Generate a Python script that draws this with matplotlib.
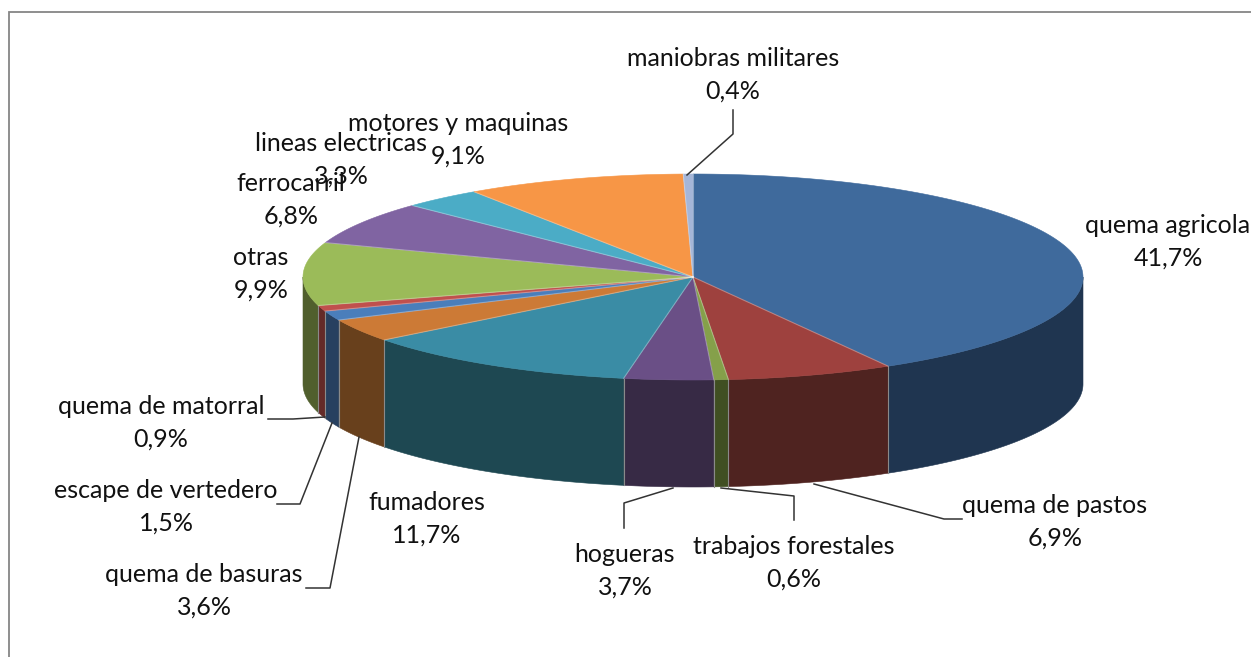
import matplotlib
matplotlib.use("Agg")
import matplotlib.pyplot as plt
from matplotlib.patches import Polygon
import numpy as np

labels = ["quema agricola", "quema de pastos", "trabajos forestales", "hogueras", "fumadores",
          "quema de basuras", "escape de vertedero", "quema de matorral", "otras", "ferrocarril",
          "lineas electricas", "motores y maquinas", "maniobras militares"]
values = [41.7, 6.9, 0.6, 3.7, 11.7, 3.6, 1.5, 0.9, 9.9, 6.8, 3.3, 9.1, 0.4]
top_colors = ["#3F6A9C", "#9E413E", "#85A04A", "#6A4F86", "#3A8CA5", "#CC7A36", "#4A7EBB",
              "#C0504D", "#9BBB59", "#8064A2", "#4BACC6", "#F79646", "#A5B6D8"]
side_colors = ["#1F3550", "#4F2320", "#404F22", "#372A45", "#1E4852", "#68401C", "#274060",
               "#642A28", "#505F2D", "#403251", "#256070", "#7C4B23", "#525B6C"]

# label centres in pixels
label_x = [1168, 1055, 794, 625, 427, 204, 166, 161, 261, 291, 341, 458, 733]
label_y = [242, 522, 563, 571, 519, 591, 507, 423, 274, 200, 160, 140, 75]

# leader lines, in pixels
leaders = [
    [(814, 484), (944, 519), (962, 519)],
    [(721, 488), (794, 496), (794, 520)],
    [(673, 488), (624, 503), (624, 528)],
    [(359, 437), (330, 588), (306, 588)],
    [(332, 423), (300, 504), (277, 504)],
    [(325, 417), (293, 419), (268, 419)],
    [(687, 175), (733, 134), (733, 110)],
]

cx, cy = 693, 277
rx, ry = 390, 103
depth = 107

plt.rcParams['font.family'] = ['Lato', 'DejaVu Sans']

fig = plt.figure(figsize=(12.51, 6.57), dpi=100)
ax = fig.add_axes([0, 0, 1, 1])
ax.set_xlim(0, 1251)
ax.set_ylim(657, 0)
ax.axis("off")

# chart frame runs off the right and bottom of the picture
ax.plot([9, 9, 1251], [657, 12, 12], color="#868686", lw=1.3, solid_joinstyle="miter")


def rim(a0, a1):
    t = np.radians(np.linspace(a0, a1, 200))
    return cx + rx*np.sin(t), cy - ry*np.cos(t)


edges = np.concatenate([[0], np.cumsum(values)])
edges = edges/edges[-1]*360

# side walls, only the part facing the viewer
for i in range(len(values)):
    a0 = max(edges[i], 90)
    a1 = min(edges[i+1], 270)
    if a1 <= a0:
        continue
    x, y = rim(a0, a1)
    pts = np.column_stack([np.r_[x, x[::-1]], np.r_[y, y[::-1] + depth]])
    ax.add_patch(Polygon(pts, fc=side_colors[i], ec=side_colors[i], lw=0.4, zorder=2))
    if edges[i] >= 90:
        ax.plot([x[0], x[0]], [y[0], y[0] + depth], color="#8A8A8A", lw=0.8, zorder=3)

# top faces
for i in range(len(values)):
    x, y = rim(edges[i], edges[i+1])
    pts = np.column_stack([np.r_[cx, x], np.r_[cy, y]])
    ax.add_patch(Polygon(pts, fc=top_colors[i], ec=top_colors[i], lw=0.4, zorder=4))
for a in edges[:-1]:
    x, y = rim(a, a)
    ax.plot([cx, x[0]], [cy, y[0]], color="white", alpha=0.3, lw=0.8, zorder=5)

for line in leaders:
    ax.plot([p[0] for p in line], [p[1] for p in line], color="#333333", lw=1.1, zorder=6)

for name, v, lx, ly in zip(labels, values, label_x, label_y):
    txt = name + "\n" + f"{v:.1f}".replace(".", ",") + "%"
    ax.text(lx, ly, txt, ha="center", va="center", fontsize=18, color="#111111",
            linespacing=1.5, zorder=7, clip_on=False)

fig.savefig("out.png", dpi=100)
